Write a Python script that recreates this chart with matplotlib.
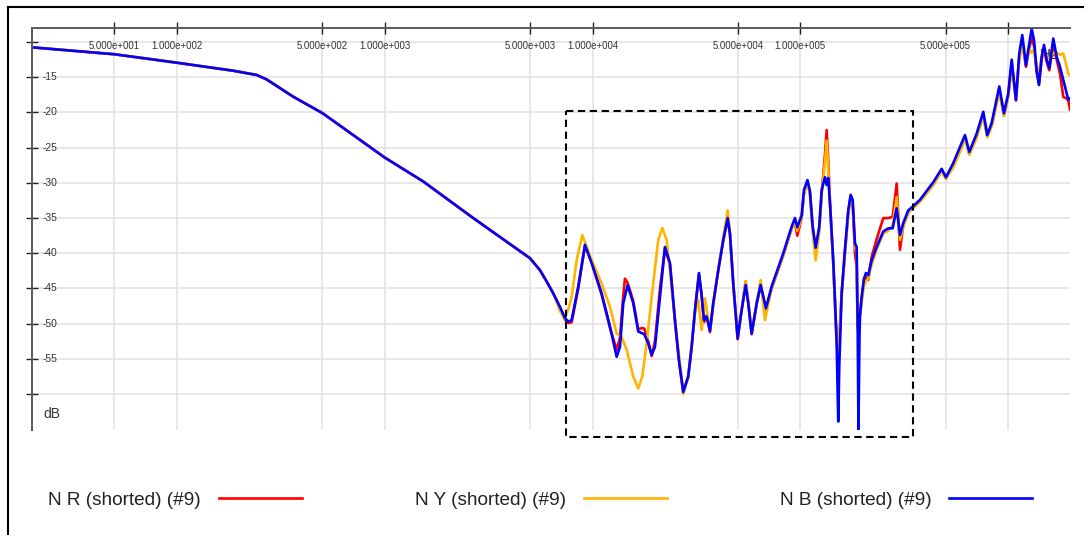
import matplotlib
matplotlib.use("Agg")
import matplotlib.pyplot as plt
from matplotlib.transforms import blended_transform_factory
from matplotlib.patches import Rectangle
from matplotlib.lines import Line2D

plt.rcParams['font.family'] = ['Liberation Sans', 'DejaVu Sans']

# ---------------- data ----------------
series_names = ["N R (shorted) (#9)", "N Y (shorted) (#9)", "N B (shorted) (#9)"]
series_colors = ["#ff0000", "#ffb400", "#0000ff"]

# low-frequency part shared by all three traces
freq_common = [20.0, 50.1, 100, 186, 242, 270, 363, 502, 760, 1000, 1532, 2667, 5000, 5584,
               6013, 6471]
db_common = [-10.74, -11.73, -12.93, -14.06, -14.67, -15.3, -17.76, -20.1, -23.9, -26.4, -29.8,
             -35.0, -40.7, -42.4, -44.0, -45.7]

freq_red = [6967, 7367, 7641, 7930, 8535, 9192, 9901, 11061, 12127, 13062,
            13548, 14051, 14318, 14753, 15699, 16591, 17345, 17733, 18535, 19249,
            19967, 21106, 22306, 23575, 24914, 26046, 27315, 28870, 29981, 31100,
            32509, 33497, 34361, 35405, 36728, 38088, 40265, 42560, 44677, 45834,
            47540, 49916, 51600, 54548, 56142, 58288, 61616, 64402, 68300, 72748,
            82748, 90802, 94188, 96627, 101461, 104066, 108190, 111228, 114612, 118480,
            123320, 126630, 131342, 133838, 136233, 138799, 143970, 146712, 149510, 152184,
            153876, 158010, 163900, 170010, 174600, 178510, 183130, 186580, 188650, 190350,
            193540, 197240, 202340, 206860, 212200, 220310, 232880, 250560, 264850, 278110,
            290700, 301540, 312780, 330570, 349420, 376400, 436180, 478630, 501960, 544000,
            586300, 619650, 649900, 705400, 759000, 793300, 833000, 906000, 954500, 1001000,
            1039500, 1090200, 1130900, 1169000, 1217900, 1263300, 1297500, 1331000, 1371500, 1406700,
            1449500, 1487000, 1532500, 1577200, 1648500, 1712000, 1775800, 1842000, 1912600, 1947000,
            1984000]
db_red = [-47.8, -49.4, -49.9, -49.8, -45.0, -38.9, -41.3, -45.9, -50.6, -53.7,
          -52.0, -46.0, -43.6, -44.2, -46.8, -50.8, -50.6, -50.7, -52.5, -54.6,
          -52.5, -45.0, -39.3, -41.6, -49.5, -55.2, -59.8, -57.5, -53.3, -48.2,
          -43.0, -46.0, -49.8, -48.8, -51.2, -47.2, -42.4, -38.2, -35.0, -37.3,
          -44.3, -52.2, -49.0, -44.0, -47.0, -51.5, -47.2, -44.6, -48.0, -45.0,
          -40.3, -36.5, -35.5, -37.5, -35.0, -31.5, -29.8, -31.5, -36.5, -39.5,
          -36.5, -31.5, -26.0, -22.5, -27.0, -32.5, -41.5, -47.0, -52.0, -54.5,
          -52.5, -45.7, -39.8, -34.2, -31.9, -32.8, -40.0, -42.0, -50.5, -51.0,
          -48.5, -46.5, -43.8, -43.4, -43.8, -40.5, -38.0, -35.0, -35.0, -34.8,
          -30.1, -39.5, -36.0, -34.2, -33.5, -32.6, -30.1, -28.2, -29.4, -27.4,
          -25.2, -23.5, -25.9, -23.3, -20.3, -23.4, -21.8, -16.8, -20.4, -17.6,
          -13.0, -18.3, -12.0, -10.0, -13.5, -10.8, -9.5, -10.5, -14.3, -16.0,
          -12.4, -11.0, -12.8, -14.0, -10.2, -12.5, -14.5, -17.8, -18.0, -18.3,
          -19.6]

freq_yellow = [6967, 7309, 7641, 7930, 8384, 8922, 9901, 11061, 12127, 13062,
               13804, 14591, 15699, 16591, 17345, 18209, 19249, 20712, 21652, 22730,
               24454, 26046, 27315, 28870, 29981, 31100, 32259, 33497, 34742, 36039,
               36728, 38088, 40265, 42560, 44677, 45834, 47540, 49916, 51600, 54548,
               56142, 58288, 61616, 64402, 67534, 72748, 82748, 90802, 94188, 96627,
               101461, 104066, 108190, 111228, 114612, 118480, 123320, 126630, 131342, 133838,
               136233, 138799, 143970, 146712, 149510, 152184, 153876, 158010, 163900, 170010,
               174600, 178510, 183130, 186580, 188650, 190350, 193540, 197240, 202340, 206860,
               212200, 220310, 232880, 250560, 264850, 278110, 290700, 301540, 312780, 330570,
               349420, 376400, 436180, 478630, 501960, 544000, 586300, 619650, 649900, 705400,
               759000, 793300, 833000, 906000, 954500, 1001000, 1039500, 1090200, 1130900, 1169000,
               1217900, 1263300, 1297500, 1331000, 1371500, 1406700, 1449500, 1487000, 1532500, 1577200,
               1648500, 1712000, 1775800, 1842000, 1912600, 1947000, 1984000]
db_yellow = [-48.2, -49.3, -48.0, -46.2, -41.0, -37.4, -40.95, -44.3, -47.6, -51.4,
             -51.9, -53.7, -57.5, -59.2, -57.5, -52.8, -46.2, -38.1, -36.4, -38.1,
             -47.1, -54.5, -60.0, -57.5, -53.0, -48.5, -46.6, -50.9, -46.4, -49.4,
             -50.8, -47.0, -42.2, -37.8, -33.9, -37.0, -44.3, -51.8, -49.0, -44.0,
             -47.0, -51.3, -47.0, -43.8, -49.5, -45.0, -40.3, -36.5, -35.5, -36.8,
             -35.0, -31.5, -30.0, -31.5, -37.0, -41.0, -37.0, -31.5, -27.0, -24.0,
             -28.0, -33.0, -41.5, -47.0, -53.0, -55.0, -52.0, -45.9, -40.0, -34.2,
             -32.5, -33.0, -39.0, -40.0, -50.0, -50.5, -48.8, -47.0, -44.6, -44.0,
             -43.6, -41.6, -39.5, -37.2, -36.8, -36.0, -32.0, -38.1, -36.3, -34.2,
             -33.5, -32.7, -30.3, -28.4, -29.4, -27.8, -25.6, -23.8, -26.0, -23.6,
             -20.5, -23.5, -22.0, -17.0, -20.5, -17.8, -13.5, -17.8, -12.5, -10.5,
             -13.0, -11.0, -11.5, -11.0, -13.5, -14.5, -12.0, -11.0, -12.0, -12.5,
             -11.5, -11.5, -11.8, -11.6, -13.5, -14.5, -14.7]

freq_blue = [6967, 7367, 7641, 7930, 8535, 9192, 9901, 11061, 12127, 13062,
             13548, 14051, 14753, 15699, 16591, 17733, 18535, 19249, 19967, 21106,
             22306, 23575, 24914, 26046, 27315, 28870, 29981, 31100, 32509, 33497,
             34361, 35405, 36728, 38088, 40265, 42560, 44677, 45834, 47540, 49916,
             51600, 54548, 56142, 58288, 61616, 64402, 68300, 72748, 82748, 90802,
             94188, 96627, 101461, 104066, 108190, 111228, 114612, 118480, 123320, 126630,
             131342, 133838, 136233, 138799, 143970, 146712, 149510, 152184, 153876, 158010,
             163900, 170010, 174600, 178510, 183130, 186580, 188650, 190350, 192470, 193540,
             197240, 202340, 206860, 212200, 220310, 232880, 250560, 264850, 278110, 290700,
             301540, 312780, 330570, 349420, 376400, 436180, 478630, 501960, 544000, 586300,
             619650, 649900, 705400, 759000, 793300, 833000, 906000, 954500, 1001000, 1039500,
             1090200, 1130900, 1169000, 1217900, 1263300, 1297500, 1331000, 1371500, 1406700, 1449500,
             1487000, 1532500, 1577200, 1648500, 1712000, 1775800, 1842000, 1912600, 1947000, 1984000]
db_blue = [-47.6, -49.2, -49.7, -49.5, -44.7, -38.8, -41.4, -45.7, -50.4, -54.7,
           -53.3, -47.1, -44.5, -47.1, -51.1, -51.5, -52.8, -54.4, -53.3, -46.2,
           -39.1, -41.4, -49.5, -55.2, -59.7, -57.5, -53.3, -48.1, -42.8, -46.0,
           -49.5, -49.0, -51.0, -47.1, -42.4, -38.1, -35.0, -37.2, -44.3, -52.1,
           -49.0, -44.5, -47.1, -51.4, -47.1, -44.5, -47.8, -44.7, -40.0, -36.2,
           -35.0, -36.3, -34.6, -31.0, -29.6, -31.2, -36.2, -39.2, -36.2, -31.0,
           -29.2, -30.3, -29.3, -32.9, -41.0, -46.6, -52.8, -63.9, -56.1, -45.7,
           -39.5, -33.9, -31.7, -32.4, -38.6, -39.1, -50.0, -65.0, -52.0, -49.0,
           -46.2, -43.6, -42.8, -43.1, -41.0, -39.1, -36.9, -36.45, -36.45, -33.6,
           -37.4, -35.7, -33.9, -33.3, -32.4, -29.9, -28.0, -29.2, -27.2, -24.9,
           -23.2, -25.6, -23.0, -19.9, -23.2, -21.5, -16.3, -20.1, -17.3, -12.5,
           -18.2, -11.6, -9.0, -13.3, -10.2, -8.1, -9.7, -14.0, -16.1, -12.1,
           -10.4, -12.5, -13.7, -9.5, -12.1, -13.5, -15.4, -17.3, -18.2, -18.0]

x_ticks = [50, 100, 500, 1000, 5000, 10000, 50000, 100000, 500000, 1000000]
x_labeled = [50, 100, 500, 1000, 5000, 10000, 50000, 100000, 500000]
y_ticks = [-10, -15, -20, -25, -30, -35, -40, -45, -50, -55, -60]
y_labeled = [-15, -20, -25, -30, -35, -40, -45, -50, -55]

# highlighted region (dashed box)
box_f0, box_f1 = 7447, 350200
box_db0, box_db1 = -66.16, -19.72

# ---------------- figure ----------------
W, H = 1084, 535
fig = plt.figure(figsize=(W / 100, H / 100), dpi=100)
ax = fig.add_axes([31.7 / W, 1 - 430 / H, (1070 - 31.7) / W, (430 - 28.3) / H])
ax.set_xscale('log')
ax.set_xlim(20, 1984000)
ax.set_ylim(-65.1, -8.04)

traces = [(freq_red, db_red), (freq_yellow, db_yellow), (freq_blue, db_blue)]
for (fr, db), name, col in zip(traces, series_names, series_colors):
    assert len(fr) == len(db), name
    ax.plot(freq_common + fr, db_common + db, color=col, lw=1.9, label=name,
            solid_joinstyle='round', zorder=3)

# grid
for v in x_ticks:
    ax.axvline(v, color='#e2e2e2', lw=1.1, zorder=1)
for v in y_ticks:
    ax.axhline(v, color='#e2e2e2', lw=1.1, zorder=1)

# spines
for s in ['right', 'bottom']:
    ax.spines[s].set_visible(False)
for s in ['top', 'left']:
    ax.spines[s].set_color('#5a5a5a')
    ax.spines[s].set_linewidth(1.4)
    ax.spines[s].set_zorder(4)

ax.xaxis.set_ticks_position('top')
ax.set_xticks(x_ticks)
ax.set_xticks([], minor=True)
ax.set_xticklabels([])
ax.set_yticks(y_ticks)
ax.set_yticklabels([])
ax.tick_params(axis='both', which='major', direction='inout', length=8.6, width=1.0,
               color='#222222')

def sci(v):
    m, e = f"{v:.3e}".split('e')
    return f"{m}e{int(e):+04d}"

tx = blended_transform_factory(ax.transData, ax.transAxes)
for v in x_labeled:
    ax.text(v, 0.955, sci(v), transform=tx, ha='center', va='center',
            fontsize=6.9, color='#333333', zorder=2)
ty = blended_transform_factory(ax.transAxes, ax.transData)
for v in y_labeled:
    ax.text(0.0105, v, f"{v}", transform=ty, ha='left', va='center',
            fontsize=7.4, color='#333333', zorder=2)

ax.text(0.0115, 0.040, "dB", transform=ax.transAxes, ha='left', va='center',
        fontsize=10, color='#333333')
ax.text(0.971, 0.9335, "Hz", transform=ax.transAxes, ha='left', va='center',
        fontsize=11, color='#222222', zorder=2)

# dashed box
ax.add_patch(Rectangle((box_f0, box_db1), box_f1 - box_f0, box_db0 - box_db1,
                       fill=False, ls=(0, (3.5, 2.2)), lw=1.5, ec='black',
                       clip_on=False, zorder=5))

# outer frame
fig.add_artist(Line2D([8.3 / W, 8.3 / W], [0, 1 - 6.7 / H], color='black', lw=1.5,
                      transform=fig.transFigure))
fig.add_artist(Line2D([8.3 / W, 1], [1 - 6.7 / H, 1 - 6.7 / H], color='black', lw=1.5,
                      transform=fig.transFigure))

# legend
fs = 13.7
fig.legend(loc='center left', bbox_to_anchor=(48 / W, 1 - 500 / H), ncol=3,
           frameon=False, markerfirst=False, fontsize=fs, handlelength=4.36,
           handletextpad=0.95, columnspacing=5.94, borderpad=0, borderaxespad=0,
           labelcolor='#222222')

fig.savefig("out.png", dpi=100, facecolor='white')
